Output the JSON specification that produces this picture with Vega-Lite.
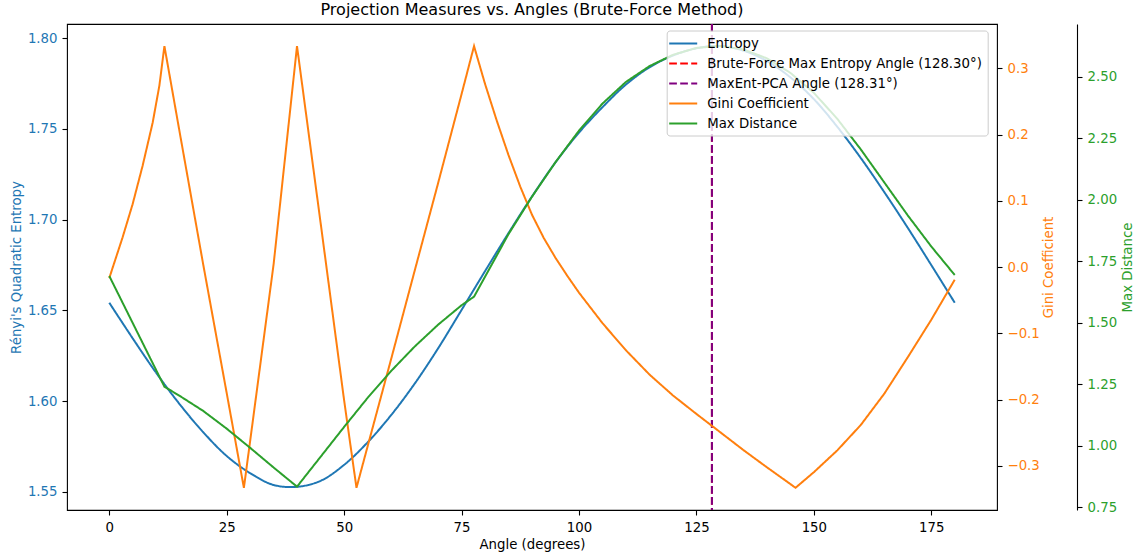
{
  "$schema": "https://vega.github.io/schema/vega-lite/v6.json",
  "width": 930,
  "height": 486,
  "autosize": {"type": "none"},
  "padding": {"left": 67, "top": 24, "right": 141, "bottom": 46},
  "background": "white",
  "title": {
    "text": "Projection Measures vs. Angles (Brute-Force Method)",
    "font": "DejaVu Sans",
    "fontSize": 16,
    "fontWeight": "normal",
    "color": "black",
    "anchor": "middle",
    "frame": "group",
    "offset": 5
  },
  "config": {
    "view": {"stroke": "black", "strokeWidth": 1.1},
    "axis": {
      "labelFont": "DejaVu Sans",
      "titleFont": "DejaVu Sans",
      "labelFontSize": 13.3,
      "titleFontSize": 13.3,
      "titleFontWeight": "normal",
      "grid": false,
      "tickColor": "black",
      "tickSize": 5,
      "tickWidth": 1.1,
      "domainColor": "black",
      "domainWidth": 1.1,
      "labelPadding": 5,
      "labelColor": "black",
      "titleColor": "black",
      "labelFlush": false,
      "labelOverlap": false
    },
    "legend": {
      "orient": "none",
      "legendX": 599.7,
      "legendY": 6.5,
      "fillColor": "rgba(255,255,255,0.8)",
      "strokeColor": "#cccccc",
      "cornerRadius": 3,
      "padding": 5,
      "symbolType": "M-2,0H2",
      "symbolSize": 196,
      "symbolOffset": 3.5,
      "symbolStrokeWidth": 2,
      "labelFont": "DejaVu Sans",
      "labelFontSize": 13.3,
      "labelColor": "black",
      "labelLimit": 400,
      "labelOffset": 16,
      "rowPadding": 5
    }
  },
  "datasets": {
    "curves": [
      {"a": 0, "s": "Entropy", "v": 1.6542},
      {"a": 5, "s": "Entropy", "v": 1.6345},
      {"a": 10, "s": "Entropy", "v": 1.6155},
      {"a": 15, "s": "Entropy", "v": 1.5982},
      {"a": 20, "s": "Entropy", "v": 1.5828},
      {"a": 25, "s": "Entropy", "v": 1.5697},
      {"a": 30, "s": "Entropy", "v": 1.5602},
      {"a": 35, "s": "Entropy", "v": 1.5537},
      {"a": 40, "s": "Entropy", "v": 1.5527},
      {"a": 45, "s": "Entropy", "v": 1.5560},
      {"a": 50, "s": "Entropy", "v": 1.5648},
      {"a": 55, "s": "Entropy", "v": 1.5772},
      {"a": 60, "s": "Entropy", "v": 1.5922},
      {"a": 65, "s": "Entropy", "v": 1.6095},
      {"a": 70, "s": "Entropy", "v": 1.6290},
      {"a": 75, "s": "Entropy", "v": 1.6502},
      {"a": 80, "s": "Entropy", "v": 1.6716},
      {"a": 85, "s": "Entropy", "v": 1.6926},
      {"a": 90, "s": "Entropy", "v": 1.7128},
      {"a": 95, "s": "Entropy", "v": 1.7316},
      {"a": 100, "s": "Entropy", "v": 1.7480},
      {"a": 105, "s": "Entropy", "v": 1.7620},
      {"a": 110, "s": "Entropy", "v": 1.7745},
      {"a": 115, "s": "Entropy", "v": 1.7840},
      {"a": 120, "s": "Entropy", "v": 1.7905},
      {"a": 125, "s": "Entropy", "v": 1.7945},
      {"a": 130, "s": "Entropy", "v": 1.7958},
      {"a": 135, "s": "Entropy", "v": 1.7932},
      {"a": 140, "s": "Entropy", "v": 1.7875},
      {"a": 145, "s": "Entropy", "v": 1.7785},
      {"a": 150, "s": "Entropy", "v": 1.7665},
      {"a": 155, "s": "Entropy", "v": 1.7512},
      {"a": 160, "s": "Entropy", "v": 1.7340},
      {"a": 165, "s": "Entropy", "v": 1.7152},
      {"a": 170, "s": "Entropy", "v": 1.6955},
      {"a": 175, "s": "Entropy", "v": 1.6750},
      {"a": 180, "s": "Entropy", "v": 1.6542},

      {"a": 0, "s": "Gini Coefficient", "v": -0.0165},
      {"a": 2.84, "s": "Gini Coefficient", "v": 0.045},
      {"a": 4.97, "s": "Gini Coefficient", "v": 0.0950},
      {"a": 7.1, "s": "Gini Coefficient", "v": 0.1530},
      {"a": 9.24, "s": "Gini Coefficient", "v": 0.2180},
      {"a": 10.67, "s": "Gini Coefficient", "v": 0.2740},
      {"a": 11.74, "s": "Gini Coefficient", "v": 0.3335},
      {"a": 15, "s": "Gini Coefficient", "v": 0.2030},
      {"a": 20, "s": "Gini Coefficient", "v": 0.0040},
      {"a": 25, "s": "Gini Coefficient", "v": -0.1900},
      {"a": 28.66, "s": "Gini Coefficient", "v": -0.3330},
      {"a": 30, "s": "Gini Coefficient", "v": -0.2620},
      {"a": 35, "s": "Gini Coefficient", "v": 0.0050},
      {"a": 39.97, "s": "Gini Coefficient", "v": 0.3335},
      {"a": 45, "s": "Gini Coefficient", "v": 0.0665},
      {"a": 50, "s": "Gini Coefficient", "v": -0.2010},
      {"a": 52.63, "s": "Gini Coefficient", "v": -0.3330},
      {"a": 55, "s": "Gini Coefficient", "v": -0.2705},
      {"a": 60, "s": "Gini Coefficient", "v": -0.1390},
      {"a": 65, "s": "Gini Coefficient", "v": -0.0060},
      {"a": 70, "s": "Gini Coefficient", "v": 0.1265},
      {"a": 75, "s": "Gini Coefficient", "v": 0.2610},
      {"a": 77.66, "s": "Gini Coefficient", "v": 0.3335},
      {"a": 80, "s": "Gini Coefficient", "v": 0.2765},
      {"a": 82.5, "s": "Gini Coefficient", "v": 0.2210},
      {"a": 85, "s": "Gini Coefficient", "v": 0.1690},
      {"a": 87.5, "s": "Gini Coefficient", "v": 0.1215},
      {"a": 90, "s": "Gini Coefficient", "v": 0.0790},
      {"a": 92.5, "s": "Gini Coefficient", "v": 0.0440},
      {"a": 95, "s": "Gini Coefficient", "v": 0.0140},
      {"a": 97.5, "s": "Gini Coefficient", "v": -0.0130},
      {"a": 100, "s": "Gini Coefficient", "v": -0.0385},
      {"a": 105, "s": "Gini Coefficient", "v": -0.0845},
      {"a": 110, "s": "Gini Coefficient", "v": -0.1255},
      {"a": 115, "s": "Gini Coefficient", "v": -0.1620},
      {"a": 120, "s": "Gini Coefficient", "v": -0.1936},
      {"a": 125, "s": "Gini Coefficient", "v": -0.2215},
      {"a": 130, "s": "Gini Coefficient", "v": -0.2487},
      {"a": 135, "s": "Gini Coefficient", "v": -0.2760},
      {"a": 140, "s": "Gini Coefficient", "v": -0.3020},
      {"a": 145, "s": "Gini Coefficient", "v": -0.3273},
      {"a": 146.1, "s": "Gini Coefficient", "v": -0.3330},
      {"a": 150, "s": "Gini Coefficient", "v": -0.3095},
      {"a": 155, "s": "Gini Coefficient", "v": -0.2765},
      {"a": 160, "s": "Gini Coefficient", "v": -0.2382},
      {"a": 165, "s": "Gini Coefficient", "v": -0.1910},
      {"a": 170, "s": "Gini Coefficient", "v": -0.1360},
      {"a": 175, "s": "Gini Coefficient", "v": -0.0795},
      {"a": 180, "s": "Gini Coefficient", "v": -0.0190},

      {"a": 0, "s": "Max Distance", "v": 1.690},
      {"a": 11.74, "s": "Max Distance", "v": 1.2405},
      {"a": 15, "s": "Max Distance", "v": 1.203},
      {"a": 20, "s": "Max Distance", "v": 1.142},
      {"a": 25, "s": "Max Distance", "v": 1.070},
      {"a": 30, "s": "Max Distance", "v": 0.992},
      {"a": 35, "s": "Max Distance", "v": 0.912},
      {"a": 39.97, "s": "Max Distance", "v": 0.8345},
      {"a": 45, "s": "Max Distance", "v": 0.956},
      {"a": 50, "s": "Max Distance", "v": 1.077},
      {"a": 55, "s": "Max Distance", "v": 1.195},
      {"a": 60, "s": "Max Distance", "v": 1.304},
      {"a": 65, "s": "Max Distance", "v": 1.403},
      {"a": 70, "s": "Max Distance", "v": 1.492},
      {"a": 75, "s": "Max Distance", "v": 1.571},
      {"a": 77.66, "s": "Max Distance", "v": 1.606},
      {"a": 80, "s": "Max Distance", "v": 1.687},
      {"a": 85, "s": "Max Distance", "v": 1.860},
      {"a": 90, "s": "Max Distance", "v": 2.012},
      {"a": 95, "s": "Max Distance", "v": 2.152},
      {"a": 100, "s": "Max Distance", "v": 2.280},
      {"a": 105, "s": "Max Distance", "v": 2.390},
      {"a": 110, "s": "Max Distance", "v": 2.478},
      {"a": 115, "s": "Max Distance", "v": 2.542},
      {"a": 120, "s": "Max Distance", "v": 2.588},
      {"a": 125, "s": "Max Distance", "v": 2.616},
      {"a": 130, "s": "Max Distance", "v": 2.624},
      {"a": 135, "s": "Max Distance", "v": 2.610},
      {"a": 140, "s": "Max Distance", "v": 2.574},
      {"a": 145, "s": "Max Distance", "v": 2.515},
      {"a": 150, "s": "Max Distance", "v": 2.434},
      {"a": 155, "s": "Max Distance", "v": 2.328},
      {"a": 160, "s": "Max Distance", "v": 2.204},
      {"a": 165, "s": "Max Distance", "v": 2.070},
      {"a": 170, "s": "Max Distance", "v": 1.936},
      {"a": 175, "s": "Max Distance", "v": 1.810},
      {"a": 180, "s": "Max Distance", "v": 1.694}
    ],
    "angles": [
      {"a": 128.30, "s": "Brute-Force Max Entropy Angle (128.30°)"},
      {"a": 128.31, "s": "MaxEnt-PCA Angle (128.31°)"}
    ]
  },
  "encoding": {
    "x": {
      "field": "a",
      "type": "quantitative",
      "scale": {"domain": [-9, 189], "nice": false, "zero": false},
      "axis": {"values": [0, 25, 50, 75, 100, 125, 150, 175], "title": "Angle (degrees)", "titlePadding": 4, "domain": false}
    },
    "color": {
      "field": "s",
      "type": "nominal",
      "title": null,
      "scale": {
        "domain": ["Entropy", "Brute-Force Max Entropy Angle (128.30°)", "MaxEnt-PCA Angle (128.31°)", "Gini Coefficient", "Max Distance"],
        "range": ["#1f77b4", "#ff0000", "#800080", "#ff7f0e", "#2ca02c"]
      }
    },
    "strokeDash": {
      "field": "s",
      "type": "nominal",
      "title": null,
      "scale": {
        "domain": ["Entropy", "Brute-Force Max Entropy Angle (128.30°)", "MaxEnt-PCA Angle (128.31°)", "Gini Coefficient", "Max Distance"],
        "range": [[1, 0], [7.7, 3.3], [7.7, 3.3], [1, 0], [1, 0]]
      }
    }
  },
  "layer": [
    {
      "data": {"name": "curves"},
      "transform": [{"filter": {"field": "s", "equal": "Entropy"}}],
      "mark": {"type": "line", "strokeWidth": 2, "interpolate": "catmull-rom"},
      "encoding": {
        "y": {
          "field": "v",
          "type": "quantitative",
          "scale": {"domain": [1.5399, 1.8079], "nice": false, "zero": false},
          "axis": {
            "orient": "left",
            "values": [1.55, 1.6, 1.65, 1.7, 1.75, 1.8],
            "format": ".2f",
            "title": "Rényi's Quadratic Entropy",
            "labelColor": "#1f77b4",
            "titleColor": "#1f77b4",
            "domain": false
          }
        }
      }
    },
    {
      "data": {"name": "angles"},
      "mark": {"type": "rule", "strokeWidth": 2},
      "encoding": {}
    },
    {
      "data": {"name": "curves"},
      "transform": [{"filter": {"field": "s", "equal": "Gini Coefficient"}}],
      "mark": {"type": "line", "strokeWidth": 2},
      "encoding": {
        "y": {
          "field": "v",
          "type": "quantitative",
          "scale": {"domain": [-0.3665, 0.3669], "nice": false, "zero": false},
          "axis": {
            "orient": "right",
            "values": [-0.3, -0.2, -0.1, 0, 0.1, 0.2, 0.3],
            "format": ".1f",
            "title": "Gini Coefficient",
            "titleAngle": 270,
            "titlePadding": 16,
            "labelColor": "#ff7f0e",
            "titleColor": "#ff7f0e",
            "domain": false
          }
        }
      }
    },
    {
      "data": {"name": "curves"},
      "transform": [{"filter": {"field": "s", "equal": "Max Distance"}}],
      "mark": {"type": "line", "strokeWidth": 2},
      "encoding": {
        "y": {
          "field": "v",
          "type": "quantitative",
          "scale": {"domain": [0.7397, 2.7132], "nice": false, "zero": false},
          "axis": {
            "orient": "right",
            "offset": 80,
            "values": [0.75, 1.0, 1.25, 1.5, 1.75, 2.0, 2.25, 2.5],
            "format": ".2f",
            "title": "Max Distance",
            "titleAngle": 270,
            "titlePadding": 18,
            "labelColor": "#2ca02c",
            "titleColor": "#2ca02c",
            "domain": true
          }
        }
      }
    }
  ],
  "resolve": {"scale": {"y": "independent"}}
}
